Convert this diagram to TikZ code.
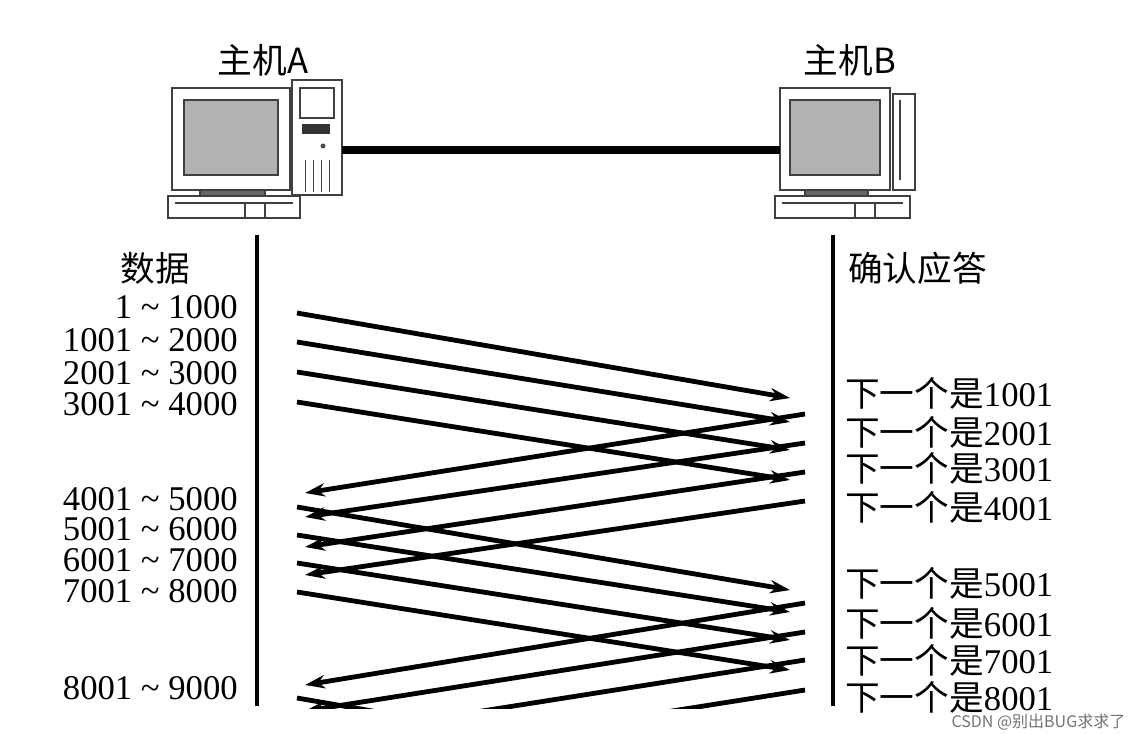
\documentclass[tikz,border=0pt]{standalone}
\usepackage{fontspec}
\setmainfont{Liberation Serif}
\newfontfamily\cjk{Noto Sans CJK SC}
\usetikzlibrary{arrows.meta}
\begin{document}
\begin{tikzpicture}[x=0.75pt,y=-0.75pt,
  seg/.style={line width=3.6pt,-{Stealth[length=15pt,width=10pt]}},
  lbl/.style={font=\fontsize{26}{26}\selectfont,inner sep=0pt},
  ack/.style={lbl,anchor=west},
  dat/.style={lbl,anchor=east},
  pc/.style={draw=black!75,line width=1pt}]
\useasboundingbox (0,0) rectangle (1138,734);
% host A
\node[lbl] (ha) at (263,60) {\cjk 主机A};
\draw[pc,fill=white] (292,80) rectangle (342,195);
\draw[pc] (300,88) rectangle (334,118);
\fill[black!80] (302,124) rectangle (330,134);
\fill[black!70] (323,146) circle (2.5);
\foreach \x in {305,313,321,329} \draw[pc,line width=0.6pt] (\x,160)--(\x,192);
\draw[pc,fill=white] (172,88) rectangle (290,190);
\draw[pc,fill=black!30] (184,100) rectangle (278,175);
\draw[pc,fill=black!60] (200,190) rectangle (265,196);
\draw[pc,fill=white] (168,196) rectangle (300,218);
\draw[pc] (175,203)--(293,203) (245,203)--(245,218) (265,203)--(265,218);
% host B
\node[lbl] (hb) at (850,60) {\cjk 主机B};
\draw[pc,fill=white] (893,94) rectangle (915,190);
\draw[pc] (900,100)--(900,180);
\draw[pc,fill=white] (780,88) rectangle (890,190);
\draw[pc,fill=black!30] (790,100) rectangle (880,175);
\draw[pc,fill=black!60] (805,190) rectangle (868,196);
\draw[pc,fill=white] (775,196) rectangle (910,218);
\draw[pc] (782,203)--(903,203) (855,203)--(855,218) (875,203)--(875,218);
% cable
\coordinate (ca) at (342,150); \coordinate (cb) at (780,150);
\draw[line width=6pt] (ca)--(cb);
% timelines
\coordinate (la) at (257,235); \coordinate (lb) at (257,706);
\coordinate (ra) at (833,235); \coordinate (rb) at (833,706);
\draw[line width=3.4pt] (la)--(lb) (ra)--(rb);
\node[lbl] (sd) at (155,268) {\cjk 数据};
\node[ack] (sa) at (848,268) {\cjk 确认应答};
% data labels
\foreach \y/\t in {307/1 \textasciitilde\ 1000,340/1001 \textasciitilde\ 2000,373/2001 \textasciitilde\ 3000,404/3001 \textasciitilde\ 4000,499/4001 \textasciitilde\ 5000,529/5001 \textasciitilde\ 6000,560/6001 \textasciitilde\ 7000,591/7001 \textasciitilde\ 8000,688/8001 \textasciitilde\ 9000}
  \node[dat] at (238,\y) {\t};
\foreach \y/\t in {393/1001,432/2001,468/3001,507/4001,583/5001,623/6001,660/7001,697/8001}
  \node[ack] at (845,\y) {{\cjk 下一个是}\t};
% arrows
\begin{scope}
\clip (260,290) rectangle (830,708);
\foreach \a/\b in {313/398,342/422,372/450,402/480,507/590,535/612,563/640,592/670,698/783}{
  \coordinate (s) at (297,\a); \coordinate (e) at (790,\b);
  \draw[seg] (s)--(e);}
\foreach \a/\b in {414/493,443/517,472/547,501/575,603/685,632/711,660/739,690/769}{
  \coordinate (s) at (805,\a); \coordinate (e) at (305,\b);
  \draw[seg] (s)--(e);}
\end{scope}
\node[font=\fontsize{12}{12}\selectfont\cjk,text=black!55,anchor=east] (wm) at (1130,722) {CSDN @别出BUG求求了};
\end{tikzpicture}
\end{document}
